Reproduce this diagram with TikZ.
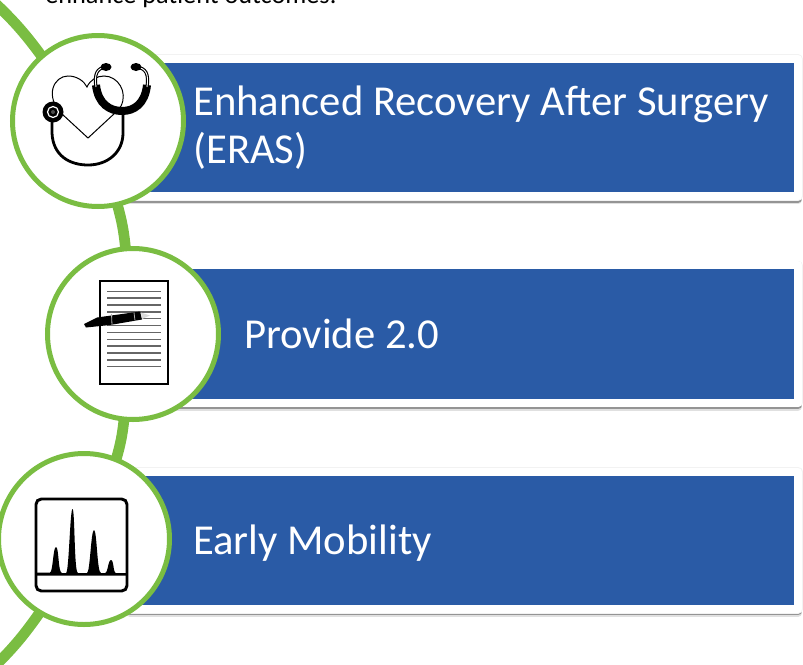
\documentclass[tikz,border=0pt]{standalone}
\usepackage{fontspec}
\setmainfont{Carlito}
\usetikzlibrary{positioning}
\definecolor{barblue}{HTML}{2A5BA6}
\definecolor{ringgreen}{HTML}{7ABD42}
\tikzstyle{barbox} = [rectangle, 
minimum width=501pt, 
minimum height=103pt,
outer sep=0pt,
line join=round,
line width=6pt,
draw=white, 
fill=barblue,
preaction={draw=black!12, transform canvas={yshift=-3pt}},
preaction={draw=black!42, transform canvas={yshift=-1.9pt}},
preaction={draw=black!5, line width=7pt}]
\tikzstyle{bartext} = [inner sep=0pt, text=white, align=left, font=\fontsize{32}{35.5}\selectfont]
\tikzstyle{ring} = [circle, 
minimum size=128.25pt,
inner sep=0pt,
outer sep=0pt,
line width=3.75pt,
draw=ringgreen, 
fill=white]
\tikzstyle{arcline} = [draw=ringgreen, line width=8pt]
\tikzstyle{icon} = [draw=black, line width=2.1pt, line cap=round]
\tikzstyle{thin icon} = [draw=black, line width=.75pt]
\tikzstyle{page line} = [draw=black!60, line width=1.1pt]
\begin{document}
\begin{tikzpicture}[x=.75pt,y=-.75pt,node distance= 51.75pt and 2cm]
\useasboundingbox (0,0) rectangle (803,664);

\node [anchor=base west, inner sep=0pt, font=\fontsize{19.7}{24}\selectfont] (intro) at (45,3) {enhance patient outcomes.};

\node [barbox] (bar1) at (464,127.5) {};
\node [barbox, below = of bar1] (bar2) {};
\node [barbox, below = of bar2] (bar3) {};

\node [bartext, right = 47.25pt of bar1.west] (label1) {Enhanced Recovery After Surgery\\(ERAS)};
\node [bartext, right = 85.5pt of bar2.west] (label2) {Provide 2.0};
\node [bartext, right = 47.25pt of bar3.west, yshift=-2pt] (label3) {Early Mobility};

\node [ring] (eras) at (98,121) {};
\node [ring] (provide) at (133,334) {};
\node [ring] (mobility) at (84,539) {};

\coordinate (arctop) at (-6,2);
\coordinate (arcbot) at (-6,667);
\path [arcline] (arctop) to[bend left=5] (eras.131);
\path [arcline] (eras.283) to[bend left=5] (provide.95);
\path [arcline] (provide.264) to[bend left=5] (mobility.68);
\path [arcline] (mobility.239) to[bend left=5] (arcbot);

% stethoscope
\draw [thin icon] (88,138) -- (62,114) .. controls (44,96) and (54,76) .. (68,76)
  .. controls (77,76) and (84,81) .. (87,87) .. controls (90,80) and (97,76) .. (104,76)
  .. controls (118,76) and (128,92) .. (121,106) -- (115,113) -- cycle;
\draw [icon] (52,113) -- (52,133) .. controls (53,156) and (70,165) .. (88,165)
  .. controls (108,165) and (123,152) .. (123,133) -- (123,110);
\draw [line width=6pt, draw=black] (96,85) .. controls (98,104) and (110,111) .. (122,111)
  .. controls (134,111) and (145,104) .. (147,85);
\draw [draw=black, line width=2.4pt] (96,87) .. controls (94,74) and (97,68) .. (106,67);
\draw [draw=black, line width=2.4pt] (147,87) .. controls (149,74) and (146,68) .. (136,67);
\draw [draw=white, line width=.7pt] (96,87) .. controls (94,74) and (97,68) .. (106,67);
\draw [draw=white, line width=.7pt] (147,87) .. controls (149,74) and (146,68) .. (136,67);
\fill [black] (106,67) ellipse (5.5 and 4);
\fill [black] (136,67) ellipse (5.5 and 4);
\fill [black] (53,112) circle (10.5);
\draw [draw=white, line width=.9pt] (53,112) circle (5.5);
\fill [black!70] (53,112) circle (2);

% page and pen
\draw [draw=black, line width=1.3pt, fill=white] (100,281) rectangle (168,384);
\foreach \row in {0,...,11}
  \draw [page line] (107,291.3+6.85*\row) -- (161,291.3+6.85*\row);
\fill [black] (84,324) -- (97,317.5) -- (140,311.5) -- (142,319.5) -- (110,325) -- (86,327.5) -- cycle;
\fill [black!15] (141,312.5) -- (150,315.5) -- (142,319) -- cycle;
\draw [draw=black!30, line width=.6pt] (111.5,314) -- (112,325);
\draw [draw=black!30, line width=.6pt] (134,312.5) -- (135,320.5);

% chromatogram
\draw [draw=black, line width=2.2pt, rounded corners=4pt] (36,499) rectangle (127,591);
\fill [black, line join=round] (37,572.5) -- (50,572.5) .. controls (53,572) and (53,547) .. (56,547)
  .. controls (59,547) and (58,573) .. (62,573) -- (66,573) .. controls (69,573) and (70,509) .. (72.5,509)
  .. controls (75,509) and (74,573) .. (78,573) -- (87,573) .. controls (90,573) and (91,530) .. (94,530)
  .. controls (97,530) and (97,573) .. (101,573) -- (105,573) .. controls (108,573) and (108,560) .. (111,560)
  .. controls (114,560) and (113,573) .. (116,573) -- (126,573) -- (126,575.5) -- (37,575.5) -- cycle;

\end{tikzpicture}
\end{document}
